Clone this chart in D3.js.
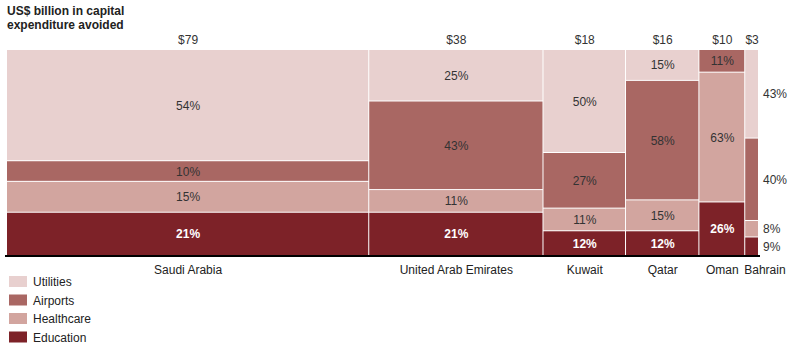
<!DOCTYPE html>
<html>
<head>
<meta charset="utf-8">
<script src="https://cdn.jsdelivr.net/npm/d3@7"></script>
<style>
  body { margin: 0; background: #fff; }
  text { font-family: "Liberation Sans", Arial, sans-serif; }
</style>
</head>
<body>
<div id="chart"></div>
<script>
const countries = ['Saudi Arabia', 'United Arab Emirates', 'Kuwait', 'Qatar', 'Oman', 'Bahrain']
const totals = [79, 38, 18, 16, 10, 3]
const totalLabels = ['$79', '$38', '$18', '$16', '$10', '$3']

// shares per segment, bottom to top
const segments = ['Education', 'Healthcare', 'Airports', 'Utilities']
const education = [21, 21, 12, 12, 26, 9]
const healthcare = [15, 11, 11, 15, 63, 8]
const airports = [10, 43, 27, 58, 11, 40]
const utilities = [54, 25, 50, 15, 0, 43]

const legendOrder = ['Utilities', 'Airports', 'Healthcare', 'Education']

const colors = {
	Utilities: '#e8d0cf',
	Airports: '#a96763',
	Healthcare: '#d2a59f',
	Education: '#7d2228'
}
const textColors = {
	Utilities: '#333',
	Airports: '#333',
	Healthcare: '#333',
	Education: '#fff'
}

const width = 797, height = 353
const margin = { top: 50, left: 7, right: 38, bottom: 97 }

let svg = d3.select('#chart')
.append('svg')
.attr('width', width)
.attr('height', height)

const sum = d3.sum(totals)
let cum = 0
const cols = countries.map((c, i) => {
	const col = { country: c, total: totals[i], label: totalLabels[i], x0: cum, x1: cum + totals[i] }
	cum += totals[i]
	const vals = { Education: education[i], Healthcare: healthcare[i], Airports: airports[i], Utilities: utilities[i] }
	let y = 0
	col.segs = segments.map(s => {
		const seg = { key: s, v: vals[s], y0: y, y1: y + vals[s], i }
		y += vals[s]
		return seg
	}).filter(s => s.v > 0)
	return col
})

let xScale = d3.scaleLinear()
.domain([0, sum])
.range([margin.left, width - margin.right])

let yScale = d3.scaleLinear()
.domain([0, 100])
.range([height - margin.bottom, margin.top])

const last = cols.length - 1

let g = svg.selectAll('.col')
.data(cols)
.join('g')
.attr('class', 'col')

g.selectAll('rect')
.data(d => d.segs.map(s => Object.assign({ col: d }, s)))
.join('rect')
.attr('x', d => xScale(d.col.x0))
.attr('width', d => xScale(d.col.x1) - xScale(d.col.x0) - 1)
.attr('y', d => yScale(d.y1))
.attr('height', d => yScale(d.y0) - yScale(d.y1) - 1)
.style('fill', d => colors[d.key])

g.selectAll('.pct')
.data(d => d.segs.map(s => Object.assign({ col: d }, s)))
.join('text')
.attr('class', 'pct')
.attr('x', d => d.i == last ? xScale(d.col.x1) + 4 : (xScale(d.col.x0) + xScale(d.col.x1)) / 2)
.attr('y', d => yScale((d.y0 + d.y1) / 2) + 4)
.attr('text-anchor', d => d.i == last ? 'start' : 'middle')
.style('font-size', '12px')
.style('font-weight', d => d.key == 'Education' && d.i != last ? 'bold' : 'normal')
.style('fill', d => d.i == last ? '#333' : textColors[d.key])
.text(d => d.v + '%')

// totals on top
g.append('text')
.attr('x', d => (xScale(d.x0) + xScale(d.x1)) / 2)
.attr('y', margin.top - 6)
.attr('text-anchor', 'middle')
.style('font-size', '12px')
.style('fill', '#333')
.text(d => d.label)

// country labels
g.append('text')
.attr('x', (d, i) => i == last ? xScale(d.x0) - 1 : (xScale(d.x0) + xScale(d.x1)) / 2)
.attr('y', height - margin.bottom + 18)
.attr('text-anchor', (d, i) => i == last ? 'start' : 'middle')
.style('font-size', '12px')
.style('fill', '#222')
.text(d => d.country)

// baseline
svg.append('line')
.attr('x1', margin.left - 2)
.attr('x2', xScale(sum) + 1)
.attr('y1', yScale(0))
.attr('y2', yScale(0))
.style('stroke', '#000')
.style('stroke-width', 2)

// title
svg.append('text')
.attr('x', 7)
.attr('y', 15)
.style('font-size', '12px')
.style('font-weight', 'bold')
.style('fill', '#222')
.selectAll('tspan')
.data(['US$ billion in capital', 'expenditure avoided'])
.join('tspan')
.attr('x', 7)
.attr('dy', (d, i) => i ? 14 : 0)
.text(d => d)

// legend
let legend = svg.selectAll('.legend')
.data(legendOrder)
.join('g')
.attr('class', 'legend')
.attr('transform', (d, i) => `translate(9, ${276 + i * 18.5})`)

legend.append('rect')
.attr('width', 18)
.attr('height', 11)
.style('fill', d => colors[d])

legend.append('text')
.attr('x', 24)
.attr('y', 10)
.style('font-size', '12px')
.style('fill', '#222')
.text(d => d)
</script>
</body>
</html>
